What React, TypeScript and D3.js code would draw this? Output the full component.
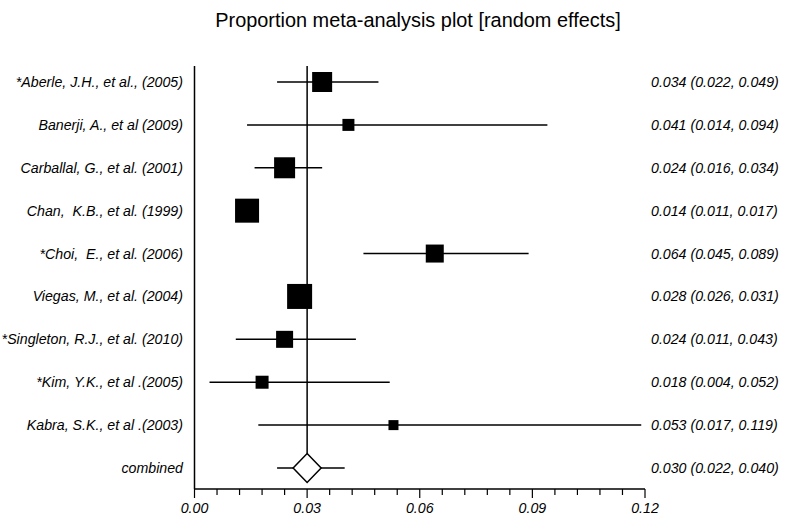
import React from "react";
import * as d3 from "d3";

const studies = [
  "*Aberle, J.H., et al., (2005)",
  "Banerji, A., et al (2009)",
  "Carballal, G., et al. (2001)",
  "Chan,  K.B., et al. (1999)",
  "*Choi,  E., et al. (2006)",
  "Viegas, M., et al. (2004)",
  "*Singleton, R.J., et al. (2010)",
  "*Kim, Y.K., et al .(2005)",
  "Kabra, S.K., et al .(2003)",
];
const estimates = [0.034, 0.041, 0.024, 0.014, 0.064, 0.028, 0.024, 0.018, 0.053];
const lower = [0.022, 0.014, 0.016, 0.011, 0.045, 0.026, 0.011, 0.004, 0.017];
const upper = [0.049, 0.094, 0.034, 0.017, 0.089, 0.031, 0.043, 0.052, 0.119];
const weights = [20, 12, 21, 24, 18, 25, 17, 13, 10];
const combinedLabel = "combined";
const combined = { est: 0.03, lo: 0.022, hi: 0.04 };
const majorTicks = [0, 0.03, 0.06, 0.09, 0.12];
const title = "Proportion meta-analysis plot [random effects]";

const W = 785;
const H = 519;

export default function App() {
  const x = d3.scaleLinear().domain([0, 0.12]).range([194.5, 645]);
  const rows = [...studies, combinedLabel];
  const y = d3.scaleLinear().domain([0, rows.length - 1]).range([82, 468]);
  const size = d3.scaleLinear().domain([0, 25]).range([0, 25]);
  const minorTicks = d3.range(0, 0.12 + 1e-9, 0.006);
  const fmt = d3.format(".3f");
  const axisY = 489;
  const font = "Arial, 'Liberation Sans', sans-serif";
  const cy = y(rows.length - 1);
  const dh = 14.5;
  const dw = 14;
  const fs = 14.2;

  return (
    <svg width={W} height={H} style={{ position: "absolute", left: 0, top: 0, background: "#fff" }} fontFamily={font}>
      <rect x={0} y={0} width={W} height={H} fill="#fff" />
      <text x={418} y={27} textAnchor="middle" fontSize={19.9} fill="#000">{title}</text>
      {/* left axis */}
      <line x1={x(0)} x2={x(0)} y1={66} y2={axisY} stroke="#000" strokeWidth={1.5} />
      {/* bottom axis */}
      <line x1={x(0)} x2={x(0.12)} y1={axisY} y2={axisY} stroke="#000" strokeWidth={1.5} />
      {minorTicks.map((t, i) => {
        const major = majorTicks.some((m) => Math.abs(m - t) < 1e-9);
        return (
          <line key={i} x1={x(t)} x2={x(t)} y1={axisY} y2={axisY + (major ? 9 : 6)} stroke="#000" strokeWidth={1.2} />
        );
      })}
      {majorTicks.map((t, i) => (
        <text key={i} x={x(t)} y={513} textAnchor="middle" fontSize={fs} fontStyle="italic" fill="#000">{d3.format(".2f")(t)}</text>
      ))}
      {/* reference line at combined estimate */}
      <line x1={x(combined.est)} x2={x(combined.est)} y1={66} y2={cy - dh} stroke="#000" strokeWidth={1.5} />
      {studies.map((s, i) => {
        const yy = y(i);
        const sz = size(weights[i]);
        return (
          <g key={s}>
            <text x={183} y={yy + 5} textAnchor="end" fontSize={fs} fontStyle="italic" fill="#000" style={{ whiteSpace: "pre" }}>{s}</text>
            <line x1={x(lower[i])} x2={x(upper[i])} y1={yy} y2={yy} stroke="#000" strokeWidth={1.5} />
            <rect x={x(estimates[i]) - sz / 2} y={yy - sz / 2} width={sz} height={sz} fill="#000" />
            <text x={651} y={yy + 5} fontSize={fs} fontStyle="italic" fill="#000">
              {`${fmt(estimates[i])} (${fmt(lower[i])}, ${fmt(upper[i])})`}
            </text>
          </g>
        );
      })}
      <g>
        <text x={183} y={cy + 5} textAnchor="end" fontSize={fs} fontStyle="italic" fill="#000">{combinedLabel}</text>
        <line x1={x(combined.lo)} x2={x(combined.hi)} y1={cy} y2={cy} stroke="#000" strokeWidth={1.5} />
        <path
          d={`M${x(combined.est)},${cy - dh} L${x(combined.est) + dw},${cy} L${x(combined.est)},${cy + dh} L${x(combined.est) - dw},${cy} Z`}
          fill="#fff"
          stroke="#000"
          strokeWidth={1.5}
        />
        <text x={651} y={cy + 5} fontSize={fs} fontStyle="italic" fill="#000">
          {`${fmt(combined.est)} (${fmt(combined.lo)}, ${fmt(combined.hi)})`}
        </text>
      </g>
    </svg>
  );
}
